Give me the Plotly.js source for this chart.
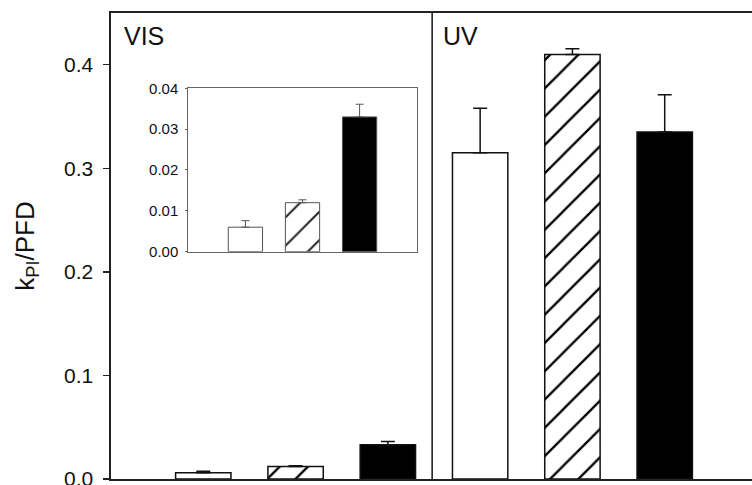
<!DOCTYPE html>
<html>
<head>
<meta charset="utf-8">
<script src="https://cdn.plot.ly/plotly-3.0.1.min.js"></script>
<style>
html,body{margin:0;padding:0;overflow:hidden;background:#fff;width:752px;height:485px;}
#chart{width:770px;height:520px;}
</style>
</head>
<body>
<div id="chart"></div>
<script>
// Data
const groups = ['VIS', 'UV'];
const whiteVals = [0.006, 0.315];
const whiteErr = [0.0016, 0.043];
const hatchVals = [0.012, 0.410];
const hatchErr = [0.0007, 0.0055];
const blackVals = [0.033, 0.335];
const blackErr = [0.0031, 0.036];
const insetTicks = [0, 0.01, 0.02, 0.03, 0.04];
const mainTicks = [0, 0.1, 0.2, 0.3, 0.4];

const series = [
  {vals: whiteVals, err: whiteErr, fill: 'white', shape: ''},
  {vals: hatchVals, err: hatchErr, fill: 'white', shape: '/'},
  {vals: blackVals, err: blackErr, fill: 'black', shape: ''}
];

const traces = [];
series.forEach((s, si) => {
  const xs = groups.map((g, gi) => gi * 3 + si + 1);
  traces.push({
    type: 'bar', x: xs, y: s.vals, width: 0.6,
    xaxis: 'x', yaxis: 'y', showlegend: false, hoverinfo: 'none',
    marker: {
      color: s.fill,
      line: {color: '#111', width: 1.5},
      pattern: s.shape ? {shape: s.shape, size: 20, solidity: 0.115, fgcolor: '#000', fgopacity: 1, bgcolor: 'white', fillmode: 'overlay'} : undefined
    },
    error_y: {type: 'data', array: s.err, arrayminus: s.err.map(() => 0), symmetric: false,
      color: '#111', thickness: 1.5, width: 7}
  });
  // inset: VIS group only
  traces.push({
    type: 'bar', x: [si + 1], y: [s.vals[0]], width: 0.6,
    xaxis: 'x2', yaxis: 'y2', showlegend: false, hoverinfo: 'none',
    marker: {
      color: s.fill,
      line: {color: '#555', width: 1},
      pattern: s.shape ? {shape: s.shape, size: 20, solidity: 0.1, fgcolor: '#222', fgopacity: 1, bgcolor: 'white', fillmode: 'overlay'} : undefined
    },
    error_y: {type: 'data', array: [s.err[0]], arrayminus: [0], symmetric: false,
      color: '#555', thickness: 1, width: 4}
  });
});

const font = 'Liberation Sans, Arial, sans-serif';
const layout = {
  width: 770, height: 520,
  margin: {l: 111, r: 13, t: 13, b: 41},
  paper_bgcolor: 'white', plot_bgcolor: 'rgba(0,0,0,0)',
  font: {family: font, color: '#111'},
  bargap: 0,
  xaxis: {range: [0, 7], showline: true, mirror: true, linecolor: '#222', linewidth: 1.6,
    showticklabels: false, ticks: '', showgrid: false, zeroline: false, fixedrange: true},
  yaxis: {range: [0, 0.45], tickvals: mainTicks, ticktext: mainTicks.map(v => v.toFixed(1)),
    ticks: 'outside', ticklen: 6, tickwidth: 1.3, tickcolor: '#222', ticklabelstandoff: 6,
    tickfont: {size: 21, family: font, color: '#111'},
    showline: true, mirror: true, linecolor: '#222', linewidth: 1.6,
    showgrid: false, zeroline: false,
    title: {text: 'k<sub>PI</sub>/PFD', font: {size: 26, family: font, color: '#111'}, standoff: 22}},
  xaxis2: {domain: [0.1197, 0.4732], anchor: 'y2', range: [0, 4], showline: true, mirror: true,
    linecolor: '#666', linewidth: 1, showticklabels: false, ticks: '', showgrid: false, zeroline: false},
  yaxis2: {domain: [0.4878, 0.8384], anchor: 'x2', range: [0, 0.04], tickvals: insetTicks,
    ticktext: insetTicks.map(v => v.toFixed(2)), ticks: 'outside', ticklen: 2, tickcolor: '#666',
    tickfont: {size: 15, family: font, color: '#111'}, ticklabelstandoff: 4,
    showline: true, mirror: true, linecolor: '#666', linewidth: 1, showgrid: false, zeroline: false},
  shapes: [
    {type: 'rect', xref: 'x2 domain', yref: 'y2 domain', x0: 0, x1: 1, y0: 0, y1: 1,
     fillcolor: 'white', line: {width: 0}, layer: 'below'},
    {type: 'line', xref: 'x', yref: 'paper', x0: 3.48, x1: 3.48, y0: 0, y1: 1,
     line: {color: '#222', width: 1.6}}
  ],
  annotations: [
    {text: groups[0], xref: 'paper', yref: 'paper', x: 0.017, y: 0.951, xanchor: 'left', yanchor: 'middle',
     showarrow: false, font: {size: 25, family: font, color: '#111'}},
    {text: groups[1], xref: 'paper', yref: 'paper', x: 0.511, y: 0.951, xanchor: 'left', yanchor: 'middle',
     showarrow: false, font: {size: 25, family: font, color: '#111'}}
  ]
};

Plotly.newPlot('chart', traces, layout, {staticPlot: true, displayModeBar: false});
</script>
</body>
</html>
